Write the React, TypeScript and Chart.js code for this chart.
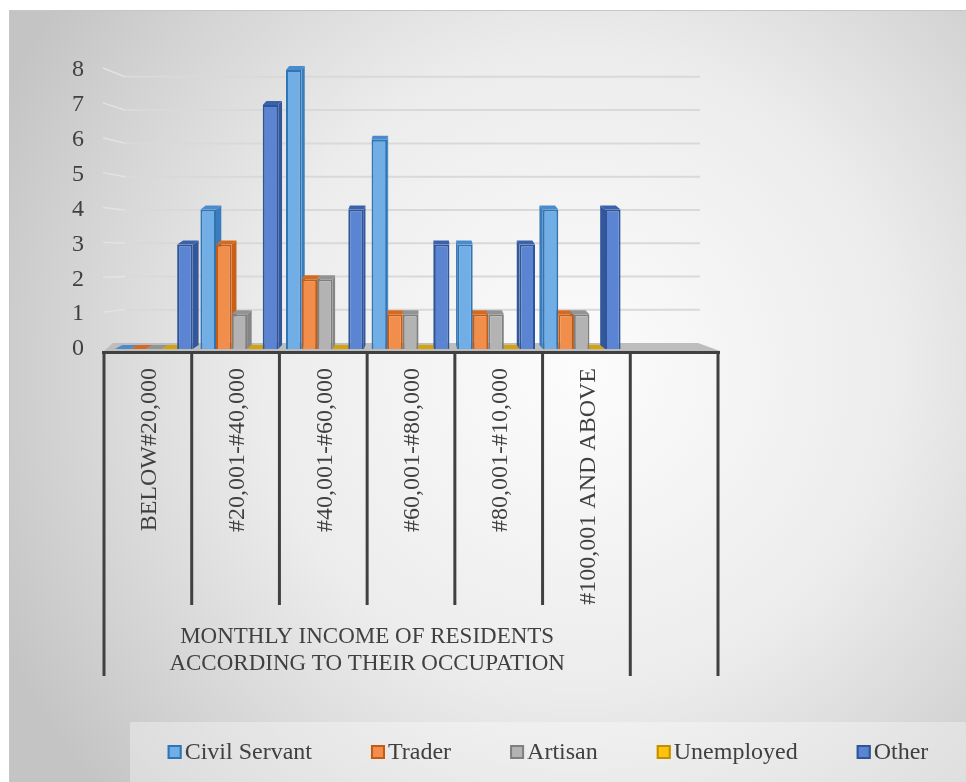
import React, { useEffect, useRef } from 'react';
import { Chart, registerables } from 'chart.js';

Chart.register(...registerables);

// ---------- data ----------
const categories = [
  'BELOW#20,000',
  '#20,001-#40,000',
  '#40,001-#60,000',
  '#60,001-#80,000',
  '#80,001-#10,000',
  '#100,001 AND ABOVE',
  '',
];
const groupLabelLines = ['MONTHLY INCOME OF RESIDENTS', 'ACCORDING TO THEIR OCCUPATION'];
const groupSpan = 6; // first six categories belong to the group label

const seriesNames = ['Civil Servant', 'Trader', 'Artisan', 'Unemployed', 'Other'];
const civilServant = [0, 4, 8, 6, 3, 4, null];
const trader = [0, 3, 2, 1, 1, 1, null];
const artisan = [0, 1, 2, 1, 1, 1, null];
const unemployed = [0, 0, 0, 0, 0, 0, null];
const other = [3, 7, 4, 3, 3, 4, null];
const yTicks = [0, 1, 2, 3, 4, 5, 6, 7, 8];

// ---------- styles ----------
const fillColors = ['#72aee6', '#f28e4c', '#b3b3b3', '#ffc20e', '#5b84d2'];
const borderColors = ['#2e75b6', '#c55a11', '#7f7f7f', '#bf9000', '#2f5597'];
const sideColors = ['#3a7cbd', '#c8601a', '#858585', '#c99a06', '#32579c'];
const topColors = ['#4a8bcb', '#d46a22', '#939393', '#d4a30a', '#3a62aa'];
const FONT = '"Liberation Serif", "Times New Roman", serif';
const TEXT = '#404040';
const LINE = '#404040';
const VANISH_X = 420;

const decorPlugin = {
  id: 'excel3dDecor',
  beforeDraw(chart: any) {
    const { ctx, width, height } = chart;
    const area = chart.chartArea;
    const ys = chart.scales.y;
    ctx.save();
    ctx.fillStyle = '#ffffff';
    ctx.fillRect(0, 0, width, height);
    const g = ctx.createRadialGradient(580, 370, 0, 580, 370, 640);
    g.addColorStop(0, '#fcfcfc');
    g.addColorStop(0.5, '#ececec');
    g.addColorStop(1, '#c4c4c4');
    ctx.fillStyle = g;
    ctx.fillRect(9, 10, width - 9, height - 10);
    ctx.strokeStyle = '#c6c6c6';
    ctx.lineWidth = 1;
    ctx.beginPath();
    ctx.moveTo(9.5, height);
    ctx.lineTo(9.5, 10.5);
    ctx.lineTo(width, 10.5);
    ctx.stroke();
    // legend band
    ctx.fillStyle = 'rgba(255,255,255,0.35)';
    ctx.fillRect(130, 722, width - 130, height - 722);

    // gridlines on the back wall (perspective-shrunk)
    const y0 = ys.getPixelForValue(0);
    const floorTop = y0 - 6;
    yTicks.forEach((v) => {
      if (v === 0) return;
      const p = ys.getPixelForValue(v);
      const gy = floorTop - (y0 - p) * 0.954;
      ctx.strokeStyle = '#e3e3e3';
      ctx.lineWidth = 1.5;
      ctx.beginPath();
      ctx.moveTo(area.left - 8, p - 2);
      ctx.lineTo(area.left + 14, gy);
      ctx.stroke();
      ctx.strokeStyle = '#d9d9d9';
      ctx.lineWidth = 2;
      ctx.beginPath();
      ctx.moveTo(area.left + 14, gy);
      ctx.lineTo(area.right - 10, gy);
      ctx.stroke();
    });
    ctx.restore();
  },
  beforeDatasetsDraw(chart: any) {
    const { ctx } = chart;
    const area = chart.chartArea;
    const ys = chart.scales.y;
    const y0 = ys.getPixelForValue(0);
    const tL = area.left - 7;
    const tR = area.right + 8;
    ctx.save();
    // floor slab
    ctx.fillStyle = '#bdbdbd';
    ctx.beginPath();
    ctx.moveTo(area.left + 2, y0 - 6);
    ctx.lineTo(area.right - 12, y0 - 6);
    ctx.lineTo(tR + 2, y0 + 2);
    ctx.lineTo(tL, y0 + 2);
    ctx.closePath();
    ctx.fill();
    // 3D side and top faces of bars
    chart.data.datasets.forEach((ds: any, di: number) => {
      const meta = chart.getDatasetMeta(di);
      meta.data.forEach((el: any, i: number) => {
        const v = ds.data[i];
        if (v === null || v === undefined) return;
        const { x, y, base, width } = el.getProps(['x', 'y', 'base', 'width'], true);
        const l = x - width / 2;
        const r = x + width / 2;
        const dx = (VANISH_X - x) / 40;
        const dy = 4;
        const edge = dx > 0 ? r : l;
        ctx.fillStyle = sideColors[di];
        ctx.beginPath();
        ctx.moveTo(edge, y);
        ctx.lineTo(edge + dx, y - dy);
        ctx.lineTo(edge + dx, base - dy);
        ctx.lineTo(edge, base);
        ctx.closePath();
        ctx.fill();
        ctx.fillStyle = topColors[di];
        ctx.beginPath();
        ctx.moveTo(l, y);
        ctx.lineTo(l + dx, y - dy);
        ctx.lineTo(r + dx, y - dy);
        ctx.lineTo(r, y);
        ctx.closePath();
        ctx.fill();
      });
    });
    ctx.restore();
  },
  afterDatasetsDraw(chart: any) {
    const { ctx } = chart;
    const area = chart.chartArea;
    const ys = chart.scales.y;
    const y0 = ys.getPixelForValue(0);
    const tL = area.left - 7;
    const tR = area.right + 8;
    const n = categories.length;
    const cw = (tR - tL) / n;
    const axisY = y0 + 3.5;
    ctx.save();
    // axis line
    ctx.strokeStyle = LINE;
    ctx.lineWidth = 3;
    ctx.beginPath();
    ctx.moveTo(tL - 2, axisY);
    ctx.lineTo(tR + 2, axisY);
    ctx.stroke();
    // table lines
    for (let i = 0; i <= n; i++) {
      const bx = tL + i * cw;
      const long = i === 0 || i >= groupSpan;
      ctx.beginPath();
      ctx.moveTo(bx, axisY);
      ctx.lineTo(bx, long ? 676 : 605);
      ctx.stroke();
    }
    // category labels (rotated)
    ctx.fillStyle = TEXT;
    ctx.font = `24px ${FONT}`;
    categories.forEach((label, i) => {
      if (!label) return;
      const cx = tL + (i + 0.5) * cw + 2;
      ctx.save();
      ctx.translate(cx, 368);
      ctx.rotate(-Math.PI / 2);
      ctx.textAlign = 'right';
      ctx.textBaseline = 'middle';
      ctx.fillText(label, 0, 0);
      ctx.restore();
    });
    // group label
    ctx.font = `23px ${FONT}`;
    ctx.textAlign = 'center';
    ctx.textBaseline = 'middle';
    const gx = tL + (groupSpan * cw) / 2;
    groupLabelLines.forEach((line, k) => {
      ctx.fillText(line, gx, 637 + k * 27);
    });
    // legend
    ctx.font = `24px ${FONT}`;
    const box = 14;
    const gapText = 17;
    const gapItem = 59;
    const widths = chart.data.datasets.map((d: any) => ctx.measureText(d.label).width);
    const total = widths.reduce((a: number, w: number) => a + gapText + w, 0) + gapItem * (widths.length - 1);
    let lx = 548 - total / 2;
    const ly = 752;
    chart.data.datasets.forEach((d: any, di: number) => {
      ctx.fillStyle = fillColors[di];
      ctx.fillRect(lx, ly - box / 2, box, box);
      ctx.strokeStyle = borderColors[di];
      ctx.lineWidth = 2;
      ctx.strokeRect(lx + 1, ly - box / 2 + 1, box - 2, box - 2);
      ctx.fillStyle = TEXT;
      ctx.textAlign = 'left';
      ctx.textBaseline = 'middle';
      ctx.fillText(d.label, lx + gapText, ly + 1);
      lx += gapText + widths[di] + gapItem;
    });
    ctx.restore();
  },
};

export default function App() {
  const ref = useRef<HTMLCanvasElement | null>(null);
  useEffect(() => {
    if (!ref.current) return;
    const seriesData = [civilServant, trader, artisan, unemployed, other];
    const chart = new Chart(ref.current, {
      type: 'bar',
      data: {
        labels: categories,
        datasets: seriesNames.map((name, i) => ({
          label: name,
          data: seriesData[i],
          backgroundColor: fillColors[i],
          borderColor: borderColors[i],
          borderWidth: 2,
          borderSkipped: 'start',
          categoryPercentage: 0.91,
          barPercentage: 1.0,
        })),
      },
      options: {
        responsive: false,
        animation: false,
        events: [],
        layout: { padding: { top: 70, right: 966 - 710, bottom: 782 - 349, left: 0 } },
        plugins: { legend: { display: false }, tooltip: { enabled: false }, title: { display: false } },
        scales: {
          x: { display: false, grid: { display: false } },
          y: {
            min: 0,
            max: 8,
            afterFit: (s: any) => { s.width = 111; },
            afterBuildTicks: (s: any) => { s.ticks = yTicks.map((v) => ({ value: v })); },
            grid: { display: false, drawTicks: false },
            border: { display: false },
            ticks: {
              padding: 27,
              color: TEXT,
              font: { family: FONT, size: 24 },
            },
          },
        },
      },
      plugins: [decorPlugin],
    });
    return () => chart.destroy();
  }, []);
  return (
    <div style={{ position: 'absolute', left: 0, top: 0, width: 966, height: 782 }}>
      <canvas ref={ref} width={966} height={782} style={{ display: 'block' }} />
    </div>
  );
}
